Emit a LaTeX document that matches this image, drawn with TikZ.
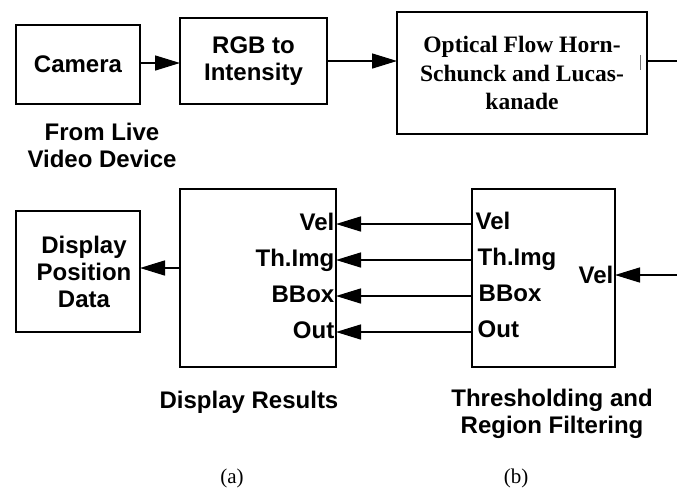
\documentclass[tikz,border=0pt]{standalone}
\usepackage{fontspec}
\setmainfont{Liberation Sans}
\newfontfamily\timesfont{Liberation Serif}
\usetikzlibrary{positioning,arrows.meta}

\begin{document}
\begin{tikzpicture}[x=1pt, y=-1pt,
    block/.style={draw, line width=1.6pt, inner sep=0pt, outer sep=0pt, align=center, font=\fontsize{24}{27}\selectfont\bfseries},
    port/.style={inner sep=1.5pt, font=\fontsize{24}{27}\selectfont\bfseries, text height=17pt, text depth=5pt},
    caption/.style={align=center, font=\fontsize{24}{27.5}\selectfont\bfseries},
    sublabel/.style={font=\fontsize{21}{24}\selectfont\timesfont},
    arrow/.style={-{Triangle[length=25pt, width=15pt]}, line width=1.5pt}
]
\useasboundingbox (0,0) rectangle (677,491);

% Bloques de la fila superior
\node[block, minimum width=124pt, minimum height=79pt] (cam) at (78,64.5) {Camera};
\node[block, minimum width=147pt, minimum height=86pt] (rgb) at (253.5,61) {RGB to\\Intensity};
\node[block, minimum width=250pt, minimum height=122pt, font=\fontsize{23.5}{28.5}\selectfont\timesfont\bfseries] (flow) at (522,73) {Optical Flow Horn-\\Schunck and Lucas-\\kanade};
\node[caption] (live) at (102,145.5) {From Live\\Video Device};
\coordinate (flowout) at (677,61);

% Bloques de la fila inferior
\node[block, minimum width=124pt, minimum height=121pt] (disp) at (78,271.5) {\hspace*{12pt}Display\\\hspace*{12pt}Position\\\hspace*{12pt}Data};
\node[block, minimum width=156pt, minimum height=178pt] (res) at (258,278) {};
\node[block, minimum width=143pt, minimum height=178pt] (thr) at (543.5,278) {};
\coordinate (velin) at (677,275);

% Puertos de Display Results
\node[port, anchor=east] (rvel) at (res.east |- 0,224) {Vel};
\node[port, anchor=east] (rimg) at (res.east |- 0,260) {Th.Img};
\node[port, anchor=east] (rbox) at (res.east |- 0,296) {BBox};
\node[port, anchor=east] (rout) at (res.east |- 0,332) {Out};

% Puertos de Thresholding
\node[port, anchor=west, xshift=2pt] (tvel) at (thr.west |- 0,223) {Vel};
\node[port, anchor=west, xshift=4pt] (timg) at (thr.west |- 0,259) {Th.Img};
\node[port, anchor=west, xshift=5pt] (tbox) at (thr.west |- 0,295) {BBox};
\node[port, anchor=west, xshift=4pt] (tout) at (thr.west |- 0,331) {Out};
\node[port, anchor=east] (tin) at (thr.east |- 0,277) {Vel};

% Leyendas
\node[caption] (rescap) at (249,402) {Display Results};
\node[caption] (thrcap) at (552,414) {Thresholding and\\Region Filtering};
\node[sublabel] (capa) at (232,478) {(a)};
\node[sublabel] (capb) at (516,478) {(b)};

% Conexiones de arriba
\draw[arrow] (cam.east |- 0,63) -- (rgb.west |- 0,63);
\draw[arrow] (rgb.east |- 0,61) -- (flow.west |- 0,61);
\draw[line width=1.5pt] (flow.east |- flowout) -- (flowout);
\draw[line width=1pt, black!55] (640,55) -- (640,70);

% Conexiones de abajo
\draw[arrow] (res.west |- 0,268) -- (disp.east |- 0,268);
\draw[arrow] (thr.west |- 0,224) -- (rvel.east);
\draw[arrow] (thr.west |- 0,260) -- (rimg.east);
\draw[arrow] (thr.west |- 0,296) -- (rbox.east);
\draw[arrow] (thr.west |- 0,332) -- (rout.east);
\draw[arrow] (velin) -- (thr.east |- velin);
\end{tikzpicture}
\end{document}
